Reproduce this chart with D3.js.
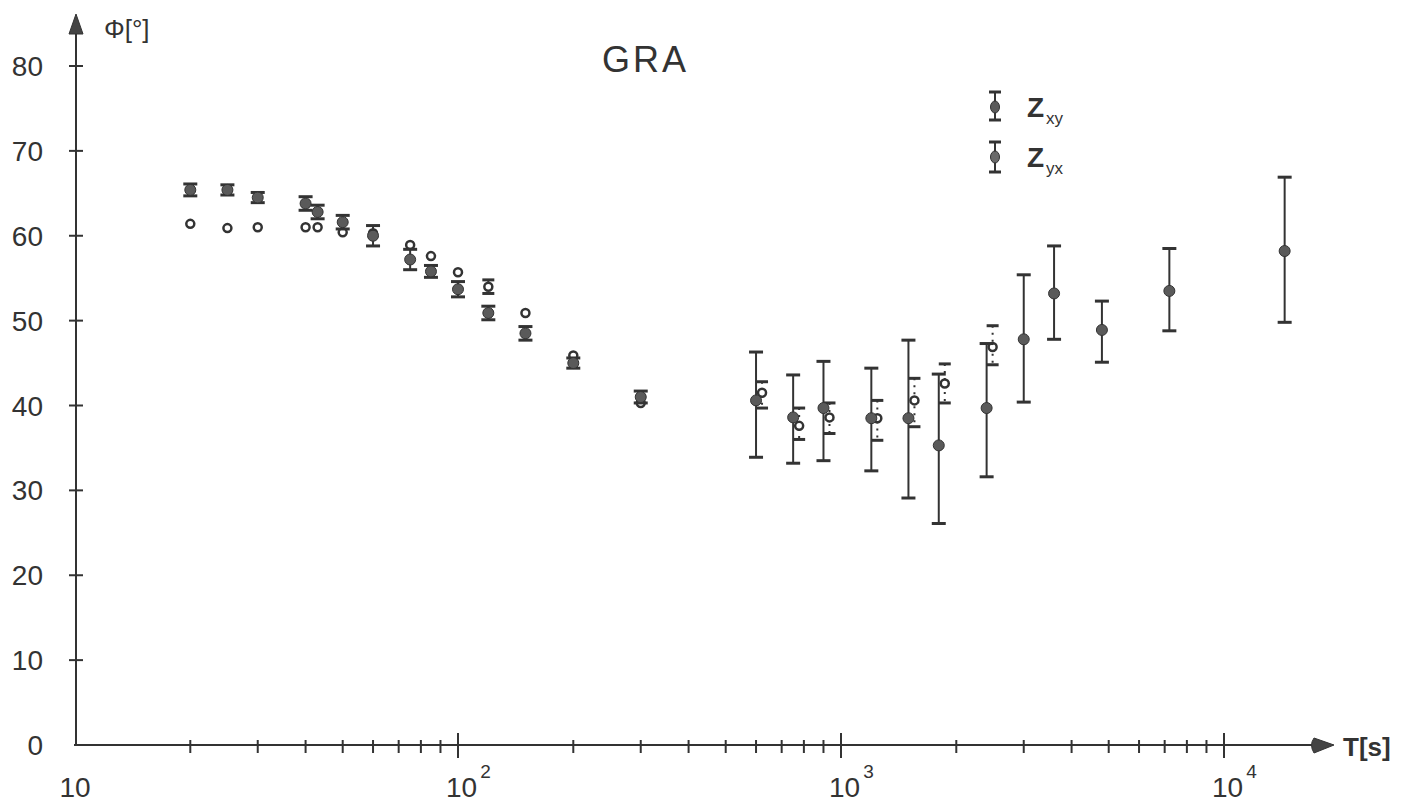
<!DOCTYPE html>
<html>
<head>
<meta charset="utf-8">
<script src="https://cdn.jsdelivr.net/npm/d3@7/dist/d3.min.js"></script>
<style>
  body { margin: 0; background: #fff; }
  svg { display: block; }
  text { font-family: "Liberation Sans", Arial, sans-serif; fill: #333; }
</style>
</head>
<body>
<div id="chart"></div>
<script>
// periods in seconds
var periods = [20, 25, 30, 40, 43, 50, 60, 75, 85, 100, 120, 150, 200, 300,
               600, 750, 900, 1200, 1500, 1800, 2400, 3000, 3600, 4800, 7200, 14400];

// Zxy phase (filled circles) with error bar limits
var zxyPhase = [65.4, 65.4, 64.5, 63.8, 62.8, 61.6, 60.0, 57.2, 55.8, 53.7, 50.9, 48.5, 45.0, 41.0,
                40.6, 38.6, 39.7, 38.5, 38.5, 35.3, 39.7, 47.8, 53.2, 48.9, 53.5, 58.2];
var zxyLow   = [64.7, 64.8, 63.9, 63.0, 62.0, 60.8, 58.8, 56.0, 55.1, 52.8, 50.1, 47.7, 44.4, 40.3,
                33.9, 33.2, 33.5, 32.3, 29.1, 26.1, 31.6, 40.4, 47.8, 45.1, 48.8, 49.8];
var zxyHigh  = [66.1, 66.0, 65.1, 64.6, 63.6, 62.4, 61.2, 58.4, 56.5, 54.6, 51.7, 49.3, 45.6, 41.7,
                46.3, 43.6, 45.2, 44.4, 47.7, 43.7, 47.3, 55.4, 58.8, 52.3, 58.5, 66.9];

// Zyx phase (open circles), only up to 2400 s
var zyxPhase = [61.4, 60.9, 61.0, 61.0, 61.0, 60.4, 60.3, 58.9, 57.6, 55.7, 54.0, 50.9, 45.9, 40.3,
                41.5, 37.6, 38.6, 38.5, 40.6, 42.6, 46.9];
var zyxLow   = [61.4, 60.9, 61.0, 61.0, 61.0, 60.4, 60.3, 58.9, 57.6, 55.7, 53.2, 50.9, 45.9, 40.3,
                39.7, 36.0, 36.7, 35.9, 37.5, 40.3, 44.8];
var zyxHigh  = [61.4, 60.9, 61.0, 61.0, 61.0, 60.4, 60.3, 58.9, 57.6, 55.7, 54.8, 50.9, 45.9, 40.3,
                42.8, 39.7, 40.3, 40.6, 43.2, 44.9, 49.4];

var yTicks = [0, 10, 20, 30, 40, 50, 60, 70, 80];
var xMinorTicks = [20, 30, 40, 50, 60, 70, 80, 90, 200, 300, 400, 500, 600, 700, 800, 900,
                   2000, 3000, 4000, 5000, 6000, 7000, 8000, 9000];
var xMajorTicks = [100, 1000, 10000];
var xLabels = [{v: 10, base: "10", sup: ""}, {v: 100, base: "10", sup: "2"},
               {v: 1000, base: "10", sup: "3"}, {v: 10000, base: "10", sup: "4"}];

var W = 1419, H = 802;
var ink = "#333";

var svg = d3.select("#chart").append("svg")
    .attr("width", W)
    .attr("height", H);

var x = d3.scaleLog().domain([10, 10000]).range([75, 1224]);
var y = d3.scaleLinear().domain([0, 80]).range([745, 66]);

// axes
var axis = svg.append("g").attr("stroke", ink).attr("stroke-width", 2);
axis.append("line").attr("x1", 74).attr("y1", y(0)).attr("x2", 1315).attr("y2", y(0));
axis.append("line").attr("x1", 76).attr("y1", y(0)).attr("x2", 76).attr("y2", 30);

// arrow heads
svg.append("path")
    .attr("d", "M76,14 L69,34 L83,34 Z")
    .attr("fill", "#444").attr("stroke", ink).attr("stroke-width", 1);
svg.append("path")
    .attr("d", "M1334,745 L1314,738 Q1309,745 1314,753 Z")
    .attr("fill", "#444").attr("stroke", ink).attr("stroke-width", 1);

// y ticks
axis.selectAll("line.yt").data(yTicks.slice(1)).enter().append("line")
    .attr("class", "yt")
    .attr("x1", 69).attr("x2", 83)
    .attr("y1", function (d) { return y(d); })
    .attr("y2", function (d) { return y(d); });

svg.selectAll("text.yl").data(yTicks).enter().append("text")
    .attr("class", "yl")
    .attr("x", 43)
    .attr("y", function (d) { return y(d) + 10; })
    .attr("text-anchor", "end")
    .attr("font-size", 28)
    .text(function (d) { return d; });

// x ticks
axis.selectAll("line.xt").data(xMinorTicks).enter().append("line")
    .attr("class", "xt")
    .attr("x1", function (d) { return x(d); })
    .attr("x2", function (d) { return x(d); })
    .attr("y1", 740).attr("y2", 753);
axis.selectAll("line.xT").data(xMajorTicks).enter().append("line")
    .attr("class", "xT")
    .attr("x1", function (d) { return x(d); })
    .attr("x2", function (d) { return x(d); })
    .attr("y1", 733).attr("y2", 758);

var xl = svg.selectAll("text.xl").data(xLabels).enter().append("text")
    .attr("class", "xl")
    .attr("x", function (d) { return d.sup ? x(d.v) - 12 : x(d.v); })
    .attr("y", 797)
    .attr("text-anchor", function (d) { return d.sup ? "start" : "middle"; })
    .attr("font-size", 28);
xl.append("tspan").text(function (d) { return d.base; });
xl.append("tspan")
    .attr("dx", 3).attr("dy", -19)
    .attr("font-size", 19)
    .text(function (d) { return d.sup; });

// axis titles
svg.append("text").attr("x", 104).attr("y", 38).attr("font-size", 26).text("\u03a6[\u00b0]");
svg.append("text").attr("x", 1343).attr("y", 756).attr("font-size", 26).attr("font-weight", "bold").text("T[s]");
svg.append("text").attr("x", 602).attr("y", 72).attr("font-size", 36)
    .attr("letter-spacing", 3).text("GRA");

// series
var zxy = periods.map(function (p, i) {
  return {p: p, v: zxyPhase[i], lo: zxyLow[i], hi: zxyHigh[i]};
});
var zyx = zyxPhase.map(function (v, i) {
  return {p: periods[i], v: v, lo: zyxLow[i], hi: zyxHigh[i]};
});

function zyxX(d) { return x(d.p) + (d.p >= 600 ? 6 : 0); }

// Zyx (open circles, dotted bars), drawn underneath
var gyx = svg.append("g").selectAll("g").data(zyx).enter().append("g");
gyx.filter(function (d) { return d.hi > d.lo; }).each(function (d) {
  var g = d3.select(this), cx = zyxX(d);
  g.append("line").attr("x1", cx).attr("x2", cx)
    .attr("y1", y(d.hi)).attr("y2", y(d.lo))
    .attr("stroke", ink).attr("stroke-width", 2).attr("stroke-dasharray", "2,5");
  [d.hi, d.lo].forEach(function (e) {
    g.append("line").attr("x1", cx - 6).attr("x2", cx + 6)
      .attr("y1", y(e)).attr("y2", y(e))
      .attr("stroke", ink).attr("stroke-width", 3);
  });
});
gyx.append("circle")
    .attr("cx", zyxX)
    .attr("cy", function (d) { return y(d.v); })
    .attr("r", 4)
    .attr("fill", "#fff").attr("stroke", ink).attr("stroke-width", 2.5);

// Zxy (filled circles, solid bars)
var gxy = svg.append("g").selectAll("g").data(zxy).enter().append("g");
gxy.append("line")
    .attr("x1", function (d) { return x(d.p); })
    .attr("x2", function (d) { return x(d.p); })
    .attr("y1", function (d) { return y(d.hi); })
    .attr("y2", function (d) { return y(d.lo); })
    .attr("stroke", ink).attr("stroke-width", 2);
gxy.each(function (d) {
  var g = d3.select(this);
  [d.hi, d.lo].forEach(function (e) {
    g.append("line").attr("x1", x(d.p) - 7).attr("x2", x(d.p) + 7)
      .attr("y1", y(e)).attr("y2", y(e))
      .attr("stroke", ink).attr("stroke-width", 3);
  });
});
gxy.append("circle")
    .attr("cx", function (d) { return x(d.p); })
    .attr("cy", function (d) { return y(d.v); })
    .attr("r", 5.5)
    .attr("fill", "#5a5a5a").attr("stroke", ink).attr("stroke-width", 1);

// legend
var legend = [{label: "Z", sub: "xy", top: 92, mid: 107, bot: 120, fill: "#5a5a5a"},
              {label: "Z", sub: "yx", top: 142, mid: 157, bot: 172, fill: "#6a6a6a"}];
var lg = svg.append("g").selectAll("g").data(legend).enter().append("g");
lg.append("line").attr("x1", 995).attr("x2", 995)
    .attr("y1", function (d) { return d.top; }).attr("y2", function (d) { return d.bot; })
    .attr("stroke", ink).attr("stroke-width", 2);
lg.append("line").attr("x1", 989).attr("x2", 1001)
    .attr("y1", function (d) { return d.top; }).attr("y2", function (d) { return d.top; })
    .attr("stroke", ink).attr("stroke-width", 3);
lg.append("line").attr("x1", 989).attr("x2", 1001)
    .attr("y1", function (d) { return d.bot; }).attr("y2", function (d) { return d.bot; })
    .attr("stroke", ink).attr("stroke-width", 3);
lg.append("ellipse").attr("cx", 995).attr("cy", function (d) { return d.mid; })
    .attr("rx", 4.5).attr("ry", 6)
    .attr("fill", function (d) { return d.fill; }).attr("stroke", ink).attr("stroke-width", 1);
var lt = lg.append("text").attr("x", 1027).attr("y", function (d) { return d.mid + 10; })
    .attr("font-size", 28).attr("font-weight", "bold");
lt.append("tspan").text(function (d) { return d.label; });
lt.append("tspan").attr("dx", 2).attr("dy", 7).attr("font-size", 17).attr("font-weight", "normal")
    .text(function (d) { return d.sub; });
</script>
</body>
</html>
